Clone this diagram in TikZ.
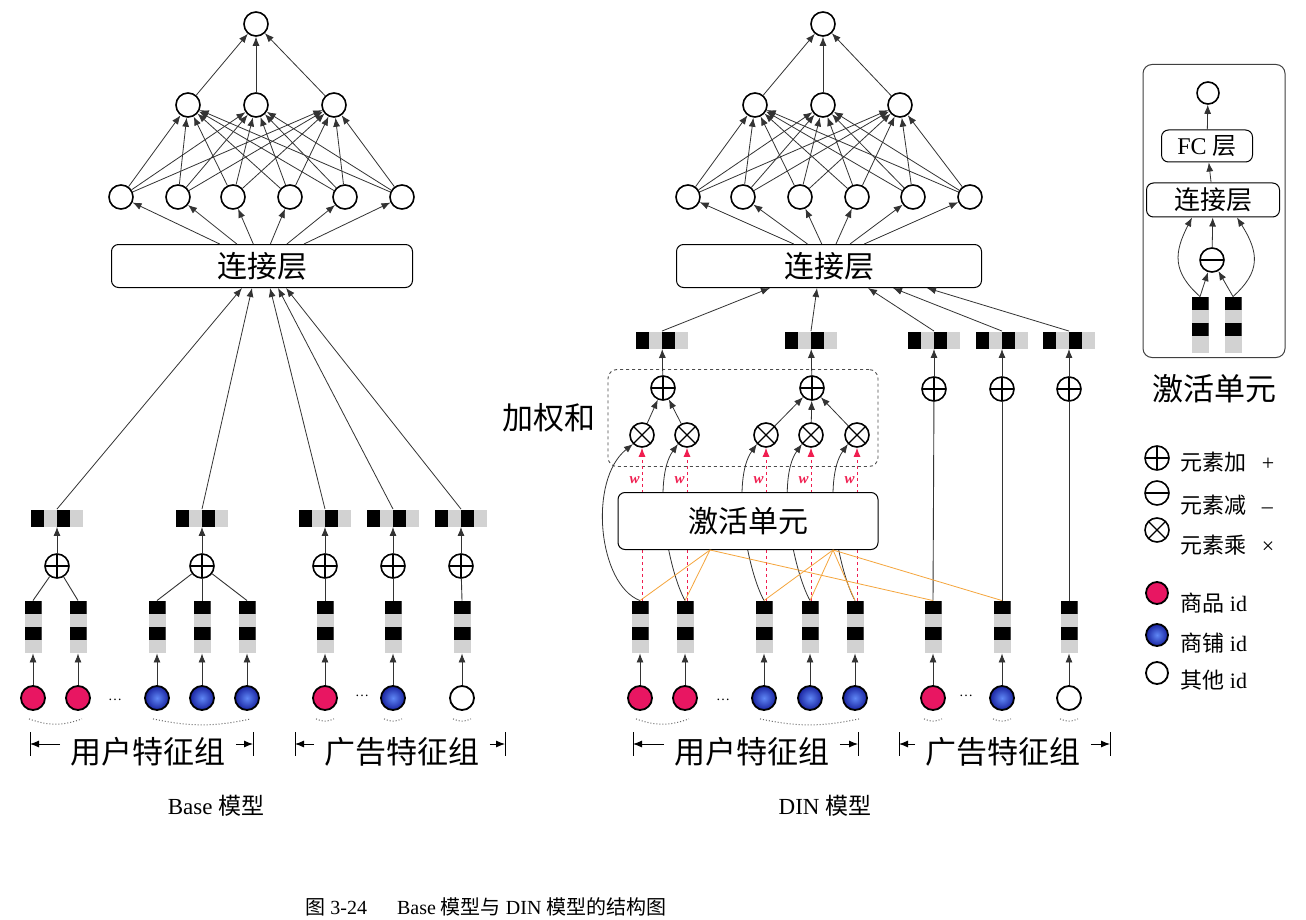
\documentclass[tikz,border=0pt]{standalone}
\usepackage{fontspec}
\setmainfont{Liberation Serif}
\newfontfamily\zh{Noto Sans CJK SC}
\usetikzlibrary{arrows.meta,positioning}

\definecolor{idred}{RGB}{232,22,98}
\definecolor{idblueA}{RGB}{95,135,245}
\definecolor{idblueB}{RGB}{25,35,160}
\definecolor{wred}{RGB}{240,30,80}
\definecolor{orl}{RGB}{245,165,60}

\tikzset{
  neuron/.style={draw, circle, line width=1.6pt, minimum size=24pt, inner sep=0pt, fill=white},
  plusop/.style={neuron, path picture={\draw[line width=1.2pt] (path picture bounding box.north) -- (path picture bounding box.south) (path picture bounding box.west) -- (path picture bounding box.east);}},
  minusop/.style={neuron, path picture={\draw[line width=1.2pt] (path picture bounding box.west) -- (path picture bounding box.east);}},
  timesop/.style={neuron, path picture={\draw[line width=1.2pt] (path picture bounding box.north west) -- (path picture bounding box.south east) (path picture bounding box.north east) -- (path picture bounding box.south west);}},
  goodsid/.style={neuron, line width=1.8pt, fill=idred},
  shopid/.style={neuron, line width=1.8pt, inner color=idblueA, outer color=idblueB},
  otherid/.style={neuron, line width=1.8pt},
  hvec/.style={minimum width=52pt, minimum height=17pt, inner sep=0pt, fill=gray!35, path picture={
    \fill[black] (path picture bounding box.south west) rectangle +(13pt,17pt);
    \fill[black] ([xshift=26pt]path picture bounding box.south west) rectangle +(13pt,17pt);}},
  vvec/.style={minimum width=17pt, minimum height=52pt, inner sep=0pt, fill=gray!35, path picture={
    \fill[black] (path picture bounding box.north west) rectangle +(17pt,-13pt);
    \fill[black] ([yshift=-26pt]path picture bounding box.north west) rectangle +(17pt,-13pt);}},
  catbox/.style={draw, rounded corners=7pt, line width=1pt, fill=white, inner sep=0pt, font=\fontsize{30}{30}\selectfont\zh},
  wsum/.style={draw=black!70, dashed, rounded corners=9pt, line width=0.9pt},
  net/.style={draw=black!80, line width=0.8pt, ->},
  link/.style={draw=black!80, line width=0.9pt},
  tie/.style={draw=black!60, dotted, line width=1pt},
  dots/.style={font=\fontsize{14}{14}\selectfont, inner sep=0pt},
  grp/.style={font=\fontsize{31}{31}\selectfont\zh, inner sep=0pt},
  lgd/.style={anchor=west, inner sep=0pt, font=\fontsize{22}{22}\selectfont},
  title/.style={font=\fontsize{23}{23}\selectfont, inner sep=0pt},
  wfont/.style={font=\fontsize{15}{15}\selectfont\bfseries\itshape, inner sep=0pt},
}

\begin{document}
\begin{tikzpicture}[x=1pt, y=-1pt, line width=0.9pt, >={Latex[length=9pt,width=7pt]}]
\path[use as bounding box, fill=white] (0,0) rectangle (1306,920);

% ===== Base model =====
% nodes
\node[neuron] (B-o) at (256,24) {};
\foreach \x [count=\i] in {188,256,334} \node[neuron] (B-h\i) at (\x,105) {};
\foreach \x [count=\i] in {121,178,233,290,345,402} \node[neuron] (B-g\i) at (\x,197) {};
\node[catbox, minimum width=301pt, minimum height=43pt] (B-cat) at (262,266) {连接层};
\foreach \x [count=\i] in {57,202,325,393,461} {
  \node[hvec] (B-p\i) at (\x,518) {};
  \node[plusop] (B-s\i) at (\x,566) {};
}
\foreach \x/\kind [count=\i] in {33/goodsid,78/goodsid,157/shopid,202/shopid,247/shopid,325/goodsid,393/shopid,462/otherid} {
  \node[vvec] (B-e\i) at (\x,627) {};
  \node[\kind] (B-f\i) at (\x,698) {};
}
\node[dots] (B-d1) at (115,700) {\dots};
\node[dots] (B-d2) at (362,696) {\dots};
\node[grp] (B-ug) at (148,752) {用户特征组};
\node[grp] (B-ag) at (402,752) {广告特征组};
\node[title] (B-title) at (216,806) {Base {\zh 模型}};

% edges
\foreach \i in {1,2,3} \draw[net] (B-h\i) -- (B-o);
\foreach \i in {1,...,6} \foreach \j in {1,2,3} \draw[net] (B-g\i) -- (B-h\j);
\foreach \x [count=\i] in {121,178,233,290,345,402} \draw[net] ([xshift={(\x-262)*0.3}]B-cat.north) -- (B-g\i);
\foreach \s [count=\i] in {-20,-10,8,16,24} \draw[net] (B-p\i.north) -- ([xshift=\s]B-cat.south);
\foreach \i in {1,...,5} \draw[net] (B-s\i) -- (B-p\i);
\foreach \e/\s in {1/1,2/1,3/2,4/2,5/2,6/3,7/4,8/5} \draw[link] (B-e\e.north) -- (B-s\s);
\foreach \i in {1,...,8} \draw[net] (B-f\i) -- (B-e\i);

% dotted ties
\draw[tie] ([shift={(-4,8)}]B-f1.south) to[bend right=20] ([shift={(4,8)}]B-f2.south);
\draw[tie] ([shift={(-4,8)}]B-f3.south) to[bend right=12] ([shift={(4,8)}]B-f5.south);
\foreach \i in {6,7,8} \draw[tie] ([shift={(-9,8)}]B-f\i.south) to[bend right=25] ([shift={(9,8)}]B-f\i.south);

% ===== DIN model =====
% nodes
\node[neuron] (D-o) at (823,24) {};
\foreach \x [count=\i] in {755,823,900} \node[neuron] (D-h\i) at (\x,105) {};
\foreach \x [count=\i] in {688,743,800,857,913,970} \node[neuron] (D-g\i) at (\x,197) {};
\node[catbox, minimum width=305pt, minimum height=43pt] (D-cat) at (829,266) {连接层};
\foreach \x [count=\i] in {662,811,934,1002,1069} \node[hvec] (D-p\i) at (\x,340) {};
\node[wsum, minimum width=270pt, minimum height=97pt] (D-ws) at (743,418) {};
\node[grp, left=12pt of D-ws] (D-wl) {加权和};
\node[plusop] (D-s1) at (663,388) {};
\node[plusop] (D-s2) at (812,388) {};
\foreach \x/\i in {934/3,1002/4,1069/5} \node[plusop] (D-s\i) at (\x,389) {};
\foreach \x [count=\i] in {642,687,766,811,857} \node[timesop] (D-m\i) at (\x,435) {};
\foreach \x/\kind [count=\i] in {640/goodsid,685/goodsid,764/shopid,810/shopid,855/shopid,933/goodsid,1002/shopid,1069/otherid} {
  \node[vvec] (D-e\i) at (\x,627) {};
  \node[\kind] (D-f\i) at (\x,698) {};
}
\node[dots] (D-d1) at (723,700) {\dots};
\node[dots] (D-d2) at (966,696) {\dots};
\node[grp] (D-ug) at (752,752) {用户特征组};
\node[grp] (D-ag) at (1003,752) {广告特征组};
\node[title] (D-title) at (825,806) {DIN {\zh 模型}};

% edges
\foreach \i in {1,2,3} \draw[net] (D-h\i) -- (D-o);
\foreach \i in {1,...,6} \foreach \j in {1,2,3} \draw[net] (D-g\i) -- (D-h\j);
\foreach \x [count=\i] in {688,743,800,857,913,970} \draw[net] ([xshift={(\x-829)*0.25}]D-cat.north) -- (D-g\i);
\foreach \s [count=\i] in {-59,-12,39,64,98} \draw[net] (D-p\i.north) -- ([xshift=\s]D-cat.south);
\foreach \i in {1,...,5} \draw[net] (D-s\i) -- (D-p\i);
\foreach \m/\s in {1/1,2/1,3/2,4/2,5/2} \draw[net] (D-m\m) -- (D-s\s);
\foreach \e/\s in {6/3,7/4,8/5} \draw[link] (D-e\e.north) -- (D-s\s);
\foreach \i in {1,...,8} \draw[net] (D-f\i) -- (D-e\i);

% attention weights
\foreach \i in {1,...,5} \draw[wred, dashed, line width=0.9pt, ->] (D-m\i.south |- D-e\i.north) -- node[pos=0.79, left=2pt, wfont] {w} (D-m\i.south);
\draw[net] (D-e1.north) .. controls +(-42,-16) and +(-45,36) .. (D-m1.south west);
\foreach \i in {2,...,5} \draw[net] (D-e\i.north) .. controls +(-17,-31) and +(-26,36) .. (D-m\i.south west);

\node[catbox, minimum width=260pt, minimum height=57pt] (D-act) at (748,521) {激活单元};
\coordinate (aL) at ([xshift=-38]D-act.south);
\coordinate (aR) at ([xshift=85]D-act.south);
\foreach \i in {1,2,6} \draw[orl, line width=0.8pt] (D-e\i.north) -- (aL);
\foreach \i in {3,4,5,7} \draw[orl, line width=0.8pt] (D-e\i.north) -- (aR);

% dotted ties
\draw[tie] ([shift={(-4,8)}]D-f1.south) to[bend right=20] ([shift={(4,8)}]D-f2.south);
\draw[tie] ([shift={(-4,8)}]D-f3.south) to[bend right=12] ([shift={(4,8)}]D-f5.south);
\foreach \i in {6,7,8} \draw[tie] ([shift={(-9,8)}]D-f\i.south) to[bend right=25] ([shift={(9,8)}]D-f\i.south);

% group brackets
\foreach \g/\lx/\rx in {B-ug/30/253, B-ag/295/505, D-ug/633/858, D-ag/899/1110} {
  \coordinate (\g-L) at (\lx,744);
  \coordinate (\g-R) at (\rx,744);
  \draw (\g-L) ++(0,-12) -- ++(0,24);
  \draw (\g-R) ++(0,-12) -- ++(0,24);
  \draw[->] ([xshift=-10]\g.west |- \g-L) -- (\g-L);
  \draw[->] ([xshift=10]\g.east |- \g-R) -- (\g-R);
}

% ===== activation unit =====
\node[draw=black!75, rounded corners=9pt, line width=1pt, minimum width=142pt, minimum height=293pt] (I-box) at (1214,211) {};
\node[neuron, minimum size=22pt] (I-o) at (1208,93) {};
\node[catbox, font=\fontsize{24}{24}\selectfont, minimum width=91pt, minimum height=32pt] (I-fc) at (1207,146) {FC {\zh 层}};
\node[catbox, font=\fontsize{26}{26}\selectfont\zh, minimum width=133pt, minimum height=34pt] (I-cat) at (1213,200) {连接层};
\node[minusop] (I-sub) at (1212,260) {};
\node[vvec, minimum height=56pt] (I-e1) at (1200,325) {};
\node[vvec, minimum height=56pt] (I-e2) at (1233,325) {};
\node[grp, below=16pt of I-box] (I-lab) {激活单元};

\draw[net] (I-fc) -- (I-o);
\draw[net] (I-cat) -- (I-fc);
\draw[net] (I-sub) -- (I-cat);
\draw[net] (I-e1.north) -- (I-sub);
\draw[net] (I-e2.north) -- (I-sub);
\draw[net] (I-e1.north) .. controls +(-28,-25) and +(-18,35) .. ([xshift=-21]I-cat.south);
\draw[net] (I-e2.north) .. controls +(28,-25) and +(22,35) .. ([xshift=24]I-cat.south);

% ===== legend =====
\node[plusop] (L-add) at (1157,458) {};
\node[minusop] (L-sub) at (1157,493) {};
\node[timesop] (L-mul) at (1157,530) {};
\node[goodsid, minimum size=22pt] (L-goods) at (1157,593) {};
\node[shopid, minimum size=22pt] (L-shop) at (1157,635) {};
\node[otherid, minimum size=22pt] (L-other) at (1157,673) {};
\node[lgd] (L-addt) at (1180,462) {{\zh 元素加}\hspace{0.7em}+};
\node[lgd] (L-subt) at (1180,505) {{\zh 元素减}\hspace{0.7em}–};
\node[lgd] (L-mult) at (1180,545) {{\zh 元素乘}\hspace{0.7em}×};
\node[lgd] (L-goodst) at (1180,603) {{\zh 商品} id};
\node[lgd] (L-shopt) at (1180,643) {{\zh 商铺} id};
\node[lgd] (L-othert) at (1180,680) {{\zh 其他} id};

% caption
\node[font=\fontsize{20}{20}\selectfont, inner sep=0pt] (caption) at (486,907) {{\zh 图} 3-24\hspace{1.5em}Base {\zh 模型与} DIN {\zh 模型的结构图}};
\end{tikzpicture}
\end{document}
